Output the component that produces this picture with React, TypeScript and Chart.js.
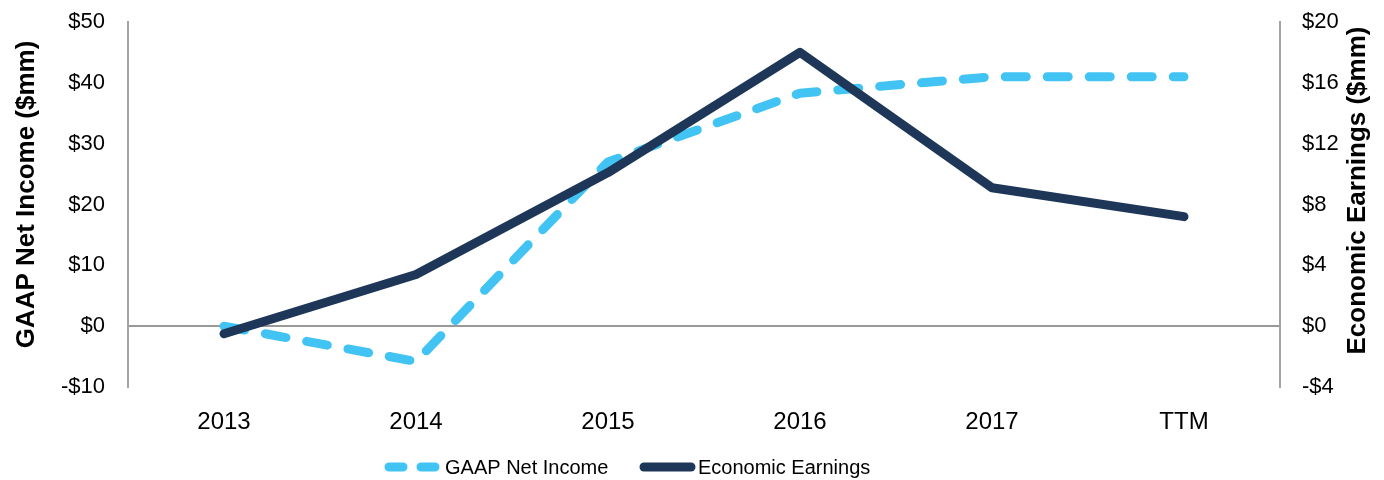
import { useEffect, useRef } from 'react';
import { Chart, registerables } from 'chart.js';

Chart.register(...registerables);

const categories = ['2013', '2014', '2015', '2016', '2017', 'TTM'];
const gaapNetIncome = [0, -5.8, 27, 38.3, 41, 41];
const economicEarnings = [-0.5, 3.4, 10.1, 18.0, 9.1, 7.2];
const leftAxisRange = [-10, 50, 10];
const rightAxisRange = [-4, 20, 4];
const seriesNames = ['GAAP Net Income', 'Economic Earnings'];
const axisTitles = ['GAAP Net Income ($mm)', 'Economic Earnings ($mm)'];

const FAMILY = '"Liberation Sans", Arial, Helvetica, sans-serif';
const LIGHT = '#41C4F3';
const NAVY = '#1E3759';
const AXIS_GRAY = '#A3A3A3';
const CLEAR = 'rgba(0,0,0,0)';

const money = (v: number) => (v < 0 ? '-$' + Math.abs(v) : '$' + v);

const extrasPlugin = {
  id: 'extras',
  afterDraw(chart: any) {
    const ctx = chart.ctx as CanvasRenderingContext2D;
    const area = chart.chartArea;
    const midY = (area.top + area.bottom) / 2 - 10;
    ctx.save();
    ctx.fillStyle = '#000';
    ctx.font = 'bold 26px ' + FAMILY;
    ctx.textAlign = 'center';
    ctx.textBaseline = 'middle';
    // left title
    ctx.save();
    ctx.translate(27, midY);
    ctx.rotate(-Math.PI / 2);
    ctx.fillText(axisTitles[0], 0, 0);
    ctx.restore();
    // right title (reads bottom to top)
    ctx.save();
    ctx.translate(1358, midY - 4);
    ctx.rotate(-Math.PI / 2);
    ctx.fillText(axisTitles[1], 0, 0);
    ctx.restore();

    // legend
    const ly = 467;
    ctx.lineWidth = 9;
    ctx.lineCap = 'round';
    ctx.strokeStyle = LIGHT;
    ctx.setLineDash([14, 18]);
    ctx.beginPath();
    ctx.moveTo(389, ly);
    ctx.lineTo(436, ly);
    ctx.stroke();
    ctx.setLineDash([]);
    ctx.strokeStyle = NAVY;
    ctx.beginPath();
    ctx.moveTo(644, ly);
    ctx.lineTo(691, ly);
    ctx.stroke();
    ctx.font = '20px ' + FAMILY;
    ctx.textAlign = 'left';
    ctx.fillStyle = '#000';
    ctx.fillText(seriesNames[0], 445, ly + 1);
    ctx.fillText(seriesNames[1], 698, ly + 1);
    ctx.restore();
  },
};

export default function App() {
  const ref = useRef<HTMLCanvasElement | null>(null);
  useEffect(() => {
    if (!ref.current) return;
    const chart = new Chart(ref.current, {
      type: 'line',
      data: {
        labels: categories,
        datasets: [
          {
            label: seriesNames[1],
            data: economicEarnings,
            yAxisID: 'y1',
            borderColor: NAVY,
            backgroundColor: NAVY,
            borderWidth: 9,
            borderCapStyle: 'round',
            borderJoinStyle: 'round',
            pointRadius: 0,
            pointHoverRadius: 0,
            tension: 0,
            fill: false,
            order: 0,
          },
          {
            label: seriesNames[0],
            data: gaapNetIncome,
            yAxisID: 'y',
            borderColor: LIGHT,
            backgroundColor: LIGHT,
            borderWidth: 9,
            borderDash: [21, 21],
            borderCapStyle: 'round',
            borderJoinStyle: 'round',
            pointRadius: 0,
            pointHoverRadius: 0,
            tension: 0,
            fill: false,
            order: 1,
          },
        ],
      },
      options: {
        responsive: false,
        animation: false,
        devicePixelRatio: 1,
        layout: { padding: { top: 22, bottom: 0, left: 0, right: 0 } },
        plugins: {
          legend: { display: false },
          tooltip: { enabled: false },
        },
        scales: {
          x: {
            type: 'category',
            offset: true,
            grid: { display: false },
            border: { display: false },
            ticks: {
              color: '#000',
              font: { size: 24, family: FAMILY },
              padding: 13,
              maxRotation: 0,
              autoSkip: false,
            },
            afterFit: (s: any) => {
              s.height = 93;
            },
          },
          y: {
            position: 'left',
            min: leftAxisRange[0],
            max: leftAxisRange[1],
            ticks: {
              stepSize: leftAxisRange[2],
              color: '#000',
              font: { size: 22, family: FAMILY },
              padding: 0,
              callback: (v: any) => money(Number(v)),
            },
            grid: {
              drawTicks: true,
              tickLength: 23,
              tickColor: CLEAR,
              lineWidth: 2,
              color: (c: any) => (c.tick && c.tick.value === 0 ? '#999999' : CLEAR),
            },
            border: { display: true, color: AXIS_GRAY, width: 2 },
            afterFit: (s: any) => {
              s.width = 128;
            },
          },
          y1: {
            position: 'right',
            min: rightAxisRange[0],
            max: rightAxisRange[1],
            ticks: {
              stepSize: rightAxisRange[2],
              color: '#000',
              font: { size: 22, family: FAMILY },
              padding: 0,
              callback: (v: any) => money(Number(v)),
            },
            grid: { drawTicks: true, tickLength: 22, tickColor: CLEAR, drawOnChartArea: false },
            border: { display: true, color: AXIS_GRAY, width: 2 },
            afterFit: (s: any) => {
              s.width = 104;
            },
          },
        },
      },
      plugins: [extrasPlugin],
    } as any);
    return () => chart.destroy();
  }, []);
  return (
    <div style={{ position: 'fixed', left: 0, top: 0, width: 1384, height: 480, background: '#fff' }}>
      <canvas ref={ref} width={1384} height={480} style={{ width: 1384, height: 480 }} />
    </div>
  );
}
